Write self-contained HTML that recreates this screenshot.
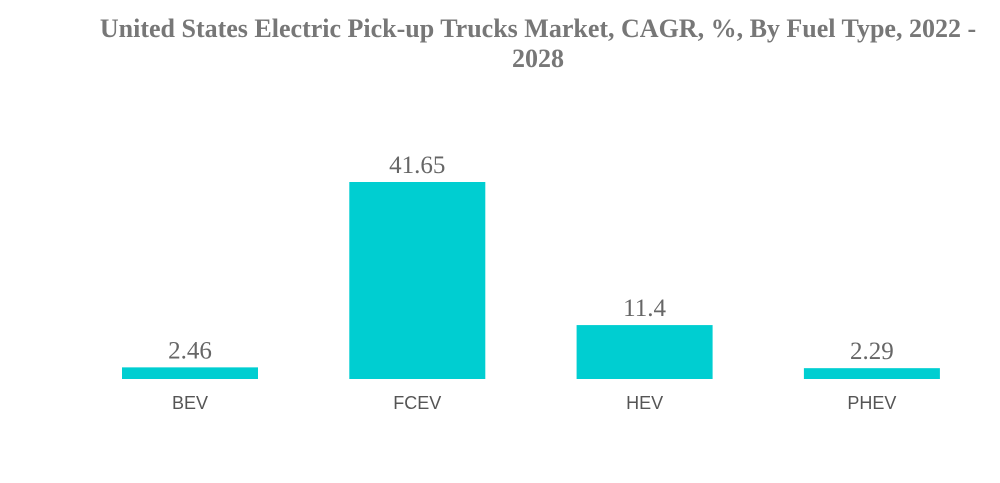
<!DOCTYPE html>
<html><head><meta charset="utf-8"><style>
body{margin:0;width:1000px;height:483px;background:#fff;overflow:hidden}
#title{position:absolute;left:76px;width:924px;top:14px;text-align:center;font:bold 26px/30px "Liberation Serif",serif;color:#777;white-space:nowrap}
</style></head><body>
<div id="title">United States Electric Pick-up Trucks Market, CAGR, %, By Fuel Type, 2022 -<br>2028</div>
<svg id="chart" width="1000" height="483" style="position:absolute;left:0;top:0"></svg>
<script>
const categories=["BEV","FCEV","HEV","PHEV"];
const values=[2.46,41.65,11.4,2.29];
const labels=["2.46","41.65","11.4","2.29"];
const svg=document.getElementById('chart');
const NS='http://www.w3.org/2000/svg';
const base=379, scale=197/41.65, x0=122, step=227.3, bw=136;
function xPos(i){return x0+i*step;}
function yPos(v){return base-v*scale;}
categories.forEach((c,i)=>{
  const x=xPos(i),y=yPos(values[i]);
  const r=document.createElementNS(NS,'rect');
  r.setAttribute('x',x);r.setAttribute('y',y);r.setAttribute('width',bw);r.setAttribute('height',base-y);r.setAttribute('fill','#00ced1');
  
  
  svg.appendChild(r);
  const t=document.createElementNS(NS,'text');
  t.setAttribute('x',x+bw/2);t.setAttribute('y',y-9);t.setAttribute('text-anchor','middle');
  t.setAttribute('font-family','Liberation Serif, serif');t.setAttribute('font-size','25');t.setAttribute('fill','#666');
  t.textContent=labels[i];
  
  
  svg.appendChild(t);
  const l=document.createElementNS(NS,'text');
  l.setAttribute('x',x+bw/2);l.setAttribute('y',409);l.setAttribute('text-anchor','middle');
  l.setAttribute('font-family','Liberation Sans, sans-serif');l.setAttribute('font-size','18');l.setAttribute('fill','#555');
  l.textContent=c;
  
  
  svg.appendChild(l);
});
</script>
</body></html>
